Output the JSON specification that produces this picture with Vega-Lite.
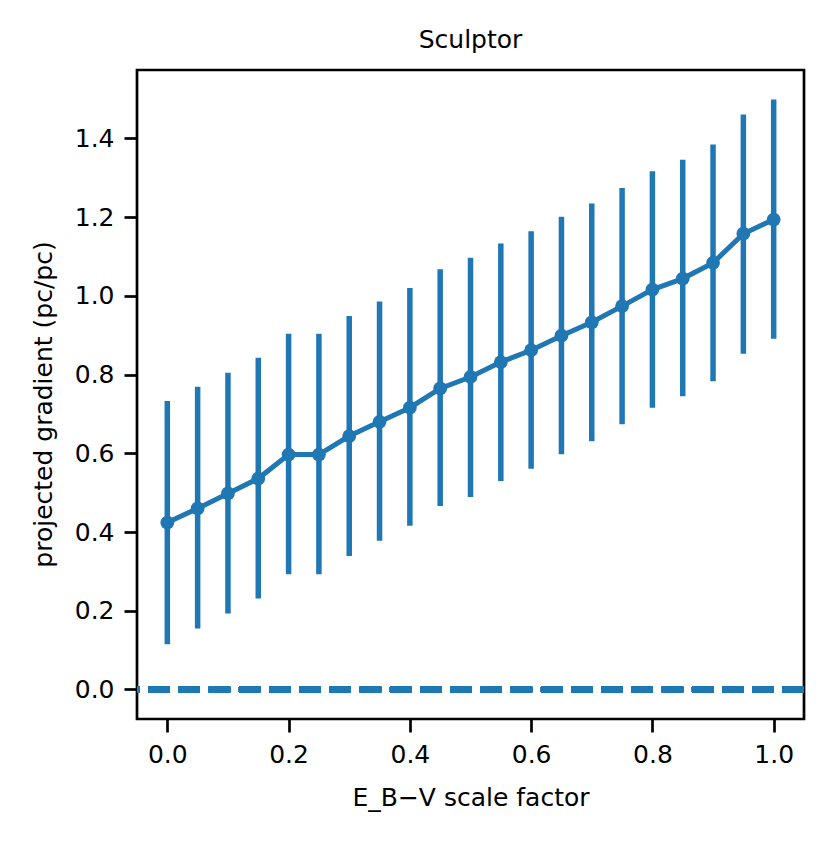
{
  "$schema": "https://vega.github.io/schema/vega-lite/v6.json",
  "width": 667,
  "height": 649,
  "autosize": {"type": "none"},
  "padding": {"left": 137, "top": 70, "right": 27, "bottom": 126},
  "background": "white",
  "title": {
    "text": "Sculptor",
    "font": "DejaVu Sans",
    "fontSize": 25,
    "fontWeight": "normal",
    "color": "black",
    "offset": 17
  },
  "config": {
    "view": {"stroke": "black", "strokeWidth": 2.7},
    "axis": {
      "labelFont": "DejaVu Sans",
      "labelFontSize": 25,
      "labelColor": "black",
      "titleFont": "DejaVu Sans",
      "titleFontSize": 25,
      "titleFontWeight": "normal",
      "titleColor": "black",
      "domain": false,
      "grid": false,
      "tickColor": "black",
      "tickSize": 13,
      "tickWidth": 2.7,
      "labelPadding": 10
    }
  },
  "data": {
    "values": [
      {"f": 0.00, "g": 0.424, "lo": 0.115, "hi": 0.733},
      {"f": 0.05, "g": 0.460, "lo": 0.155, "hi": 0.769},
      {"f": 0.10, "g": 0.498, "lo": 0.193, "hi": 0.805},
      {"f": 0.15, "g": 0.536, "lo": 0.231, "hi": 0.843},
      {"f": 0.20, "g": 0.597, "lo": 0.293, "hi": 0.904},
      {"f": 0.25, "g": 0.597, "lo": 0.293, "hi": 0.904},
      {"f": 0.30, "g": 0.644, "lo": 0.339, "hi": 0.949},
      {"f": 0.35, "g": 0.680, "lo": 0.378, "hi": 0.986},
      {"f": 0.40, "g": 0.716, "lo": 0.416, "hi": 1.020},
      {"f": 0.45, "g": 0.765, "lo": 0.466, "hi": 1.068},
      {"f": 0.50, "g": 0.794, "lo": 0.489, "hi": 1.097},
      {"f": 0.55, "g": 0.832, "lo": 0.530, "hi": 1.133},
      {"f": 0.60, "g": 0.862, "lo": 0.561, "hi": 1.164},
      {"f": 0.65, "g": 0.899, "lo": 0.598, "hi": 1.201},
      {"f": 0.70, "g": 0.933, "lo": 0.631, "hi": 1.235},
      {"f": 0.75, "g": 0.974, "lo": 0.674, "hi": 1.274},
      {"f": 0.80, "g": 1.016, "lo": 0.716, "hi": 1.317},
      {"f": 0.85, "g": 1.044, "lo": 0.745, "hi": 1.346},
      {"f": 0.90, "g": 1.084, "lo": 0.783, "hi": 1.385},
      {"f": 0.95, "g": 1.158, "lo": 0.853, "hi": 1.461},
      {"f": 1.00, "g": 1.194, "lo": 0.891, "hi": 1.499}
    ]
  },
  "encoding": {
    "x": {
      "field": "f",
      "type": "quantitative",
      "title": "E_B−V scale factor",
      "scale": {"domain": [-0.05, 1.05], "nice": false, "zero": false},
      "axis": {"values": [0, 0.2, 0.4, 0.6, 0.8, 1.0], "format": ".1f", "titlePadding": 18}
    }
  },
  "layer": [
    {
      "mark": {"type": "rule", "color": "#1f77b4", "strokeWidth": 5.5, "strokeDash": [21.5, 8.7]},
      "encoding": {"x": null, "y": {"datum": 0, "type": "quantitative"}}
    },
    {
      "mark": {"type": "rule", "color": "#1f77b4", "strokeWidth": 5.5},
      "encoding": {
        "y": {
          "field": "lo",
          "type": "quantitative",
          "title": "projected gradient (pc/pc)",
          "scale": {"domain": [-0.075, 1.574], "nice": false, "zero": false},
          "axis": {"values": [0, 0.2, 0.4, 0.6, 0.8, 1.0, 1.2, 1.4], "format": ".1f", "titlePadding": 18, "titleY": 334}
        },
        "y2": {"field": "hi"}
      }
    },
    {
      "mark": {"type": "line", "color": "#1f77b4", "strokeWidth": 5},
      "encoding": {"y": {"field": "g", "type": "quantitative"}}
    },
    {
      "mark": {"type": "point", "filled": true, "opacity": 1, "color": "#1f77b4", "size": 190},
      "encoding": {"y": {"field": "g", "type": "quantitative"}}
    }
  ]
}
